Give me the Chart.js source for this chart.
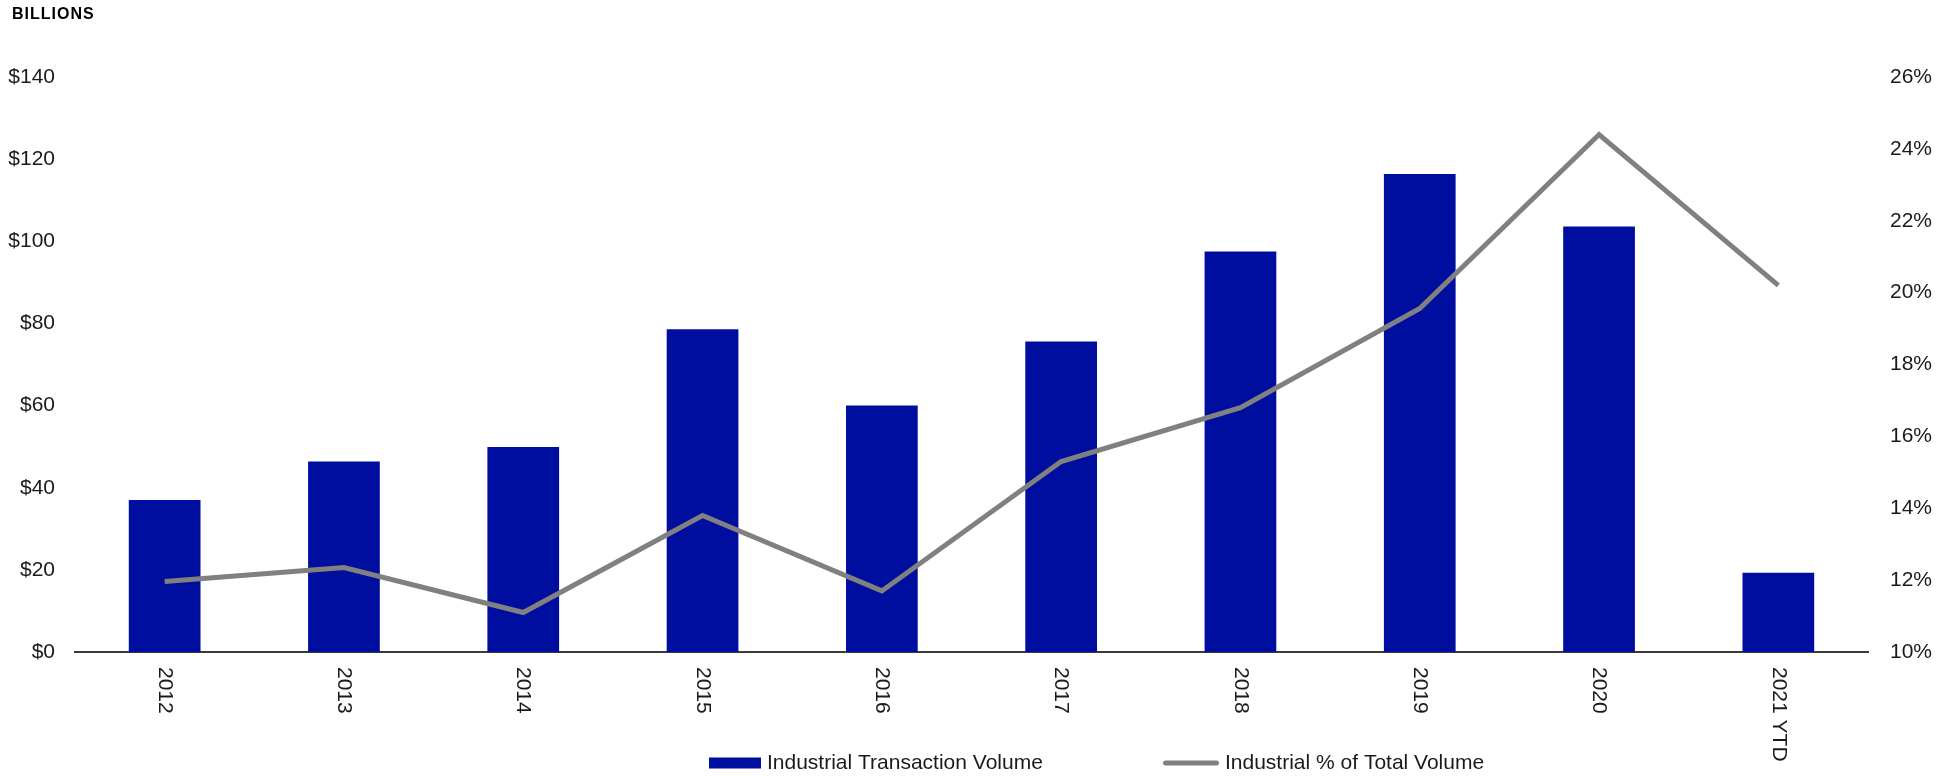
<!DOCTYPE html>
<html>
<head>
<meta charset="utf-8">
<script src="https://cdn.jsdelivr.net/npm/chart.js@4.4.1/dist/chart.umd.min.js"></script>
<style>
    body { margin: 0; background: #ffffff; }
    #contenedor { position: relative; width: 1956px; height: 776px; }
</style>
</head>
<body>
<div id="contenedor">
    <canvas id="graficaIndustrial"></canvas>
</div>
<script>
const anios = ['2012', '2013', '2014', '2015', '2016', '2017', '2018', '2019', '2020', '2021 YTD'];
const volumen = [37.0, 46.4, 49.9, 78.6, 60.0, 75.6, 97.5, 116.4, 103.6, 19.3];      // $ billions
const porcentaje = [11.96, 12.35, 11.1, 13.8, 11.7, 15.3, 16.8, 19.56, 24.4, 20.2];  // % of total
const ticksDolares = [0, 20, 40, 60, 80, 100, 120, 140];
const ticksPorcentaje = [10, 12, 14, 16, 18, 20, 22, 24, 26];

const AZUL = '#000E9F';
const GRIS = '#808080';
const FUENTE = '"Liberation Sans", Arial, sans-serif';

// year labels run top-to-bottom under each bar, plus the unit header and the legend
const extras = {
    id: 'extras',
    afterDraw(chart) {
        const ctx = chart.ctx;
        const x = chart.scales.x;
        const area = chart.chartArea;

        ctx.save();
        ctx.fillStyle = '#1a1a1a';
        ctx.font = `21px ${FUENTE}`;
        ctx.textAlign = 'left';
        ctx.textBaseline = 'middle';
        anios.forEach((anio, i) => {
            ctx.save();
            ctx.translate(x.getPixelForValue(i), area.bottom + 15);
            ctx.rotate(Math.PI / 2);
            ctx.fillText(anio, 0, 0);
            ctx.restore();
        });

        ctx.fillStyle = '#000000';
        ctx.font = `bold 16px ${FUENTE}`;
        ctx.letterSpacing = '1px';
        ctx.fillText('BILLIONS', 12, 15);
        ctx.letterSpacing = '0px';

        // legend
        const yLeyenda = 763;
        ctx.font = `21px ${FUENTE}`;
        ctx.fillStyle = chart.data.datasets[0].backgroundColor;
        ctx.fillRect(709, yLeyenda - 5.5, 52, 11);
        ctx.fillStyle = '#1a1a1a';
        ctx.fillText(chart.data.datasets[0].label, 767, yLeyenda);

        ctx.strokeStyle = chart.data.datasets[1].borderColor;
        ctx.lineWidth = 5;
        ctx.lineCap = 'round';
        ctx.beginPath();
        ctx.moveTo(1165.5, yLeyenda);
        ctx.lineTo(1216.5, yLeyenda);
        ctx.stroke();
        ctx.fillText(chart.data.datasets[1].label, 1225, yLeyenda);
        ctx.restore();
    }
};

function crearGrafica() {
    const ctx = document.getElementById('graficaIndustrial').getContext('2d');

    new Chart(ctx, {
        type: 'bar',
        data: {
            labels: anios,
            datasets: [{
                type: 'bar',
                label: 'Industrial Transaction Volume',
                data: volumen,
                backgroundColor: AZUL,
                borderWidth: 0,
                categoryPercentage: 0.4,
                barPercentage: 1.0,
                yAxisID: 'y',
                order: 2
            }, {
                type: 'line',
                label: 'Industrial % of Total Volume',
                data: porcentaje,
                borderColor: GRIS,
                backgroundColor: GRIS,
                borderWidth: 5,
                pointRadius: 0,
                tension: 0,
                fill: false,
                yAxisID: 'y1',
                order: 1
            }]
        },
        options: {
            responsive: true,
            maintainAspectRatio: false,
            animation: false,
            layout: {
                padding: { top: 77, bottom: 124, left: 0, right: 0 }
            },
            plugins: {
                legend: { display: false },
                tooltip: { enabled: false }
            },
            scales: {
                x: {
                    grid: { display: false, drawTicks: false },
                    border: { display: true, color: '#3a3a3a', width: 2 },
                    ticks: { display: false },
                    afterFit: (scale) => { scale.height = 0; }
                },
                y: {
                    position: 'left',
                    min: 0,
                    max: 140,
                    grid: { display: false, drawTicks: false },
                    border: { display: false },
                    afterBuildTicks: (scale) => {
                        scale.ticks = ticksDolares.map(v => ({ value: v }));
                    },
                    ticks: {
                        padding: 20,
                        color: '#1a1a1a',
                        font: { family: FUENTE, size: 21 },
                        callback: (v) => `$${v}`
                    },
                    afterFit: (scale) => { scale.width = 75; }
                },
                y1: {
                    position: 'right',
                    min: 10,
                    max: 26,
                    grid: { display: false, drawTicks: false },
                    border: { display: false },
                    afterBuildTicks: (scale) => {
                        scale.ticks = ticksPorcentaje.map(v => ({ value: v }));
                    },
                    ticks: {
                        padding: 22,
                        color: '#1a1a1a',
                        font: { family: FUENTE, size: 21 },
                        callback: (v) => `${v}%`
                    },
                    afterFit: (scale) => { scale.width = 88; }
                }
            }
        },
        plugins: [extras]
    });
}

document.addEventListener('DOMContentLoaded', () => {
    crearGrafica();
});
</script>
</body>
</html>
